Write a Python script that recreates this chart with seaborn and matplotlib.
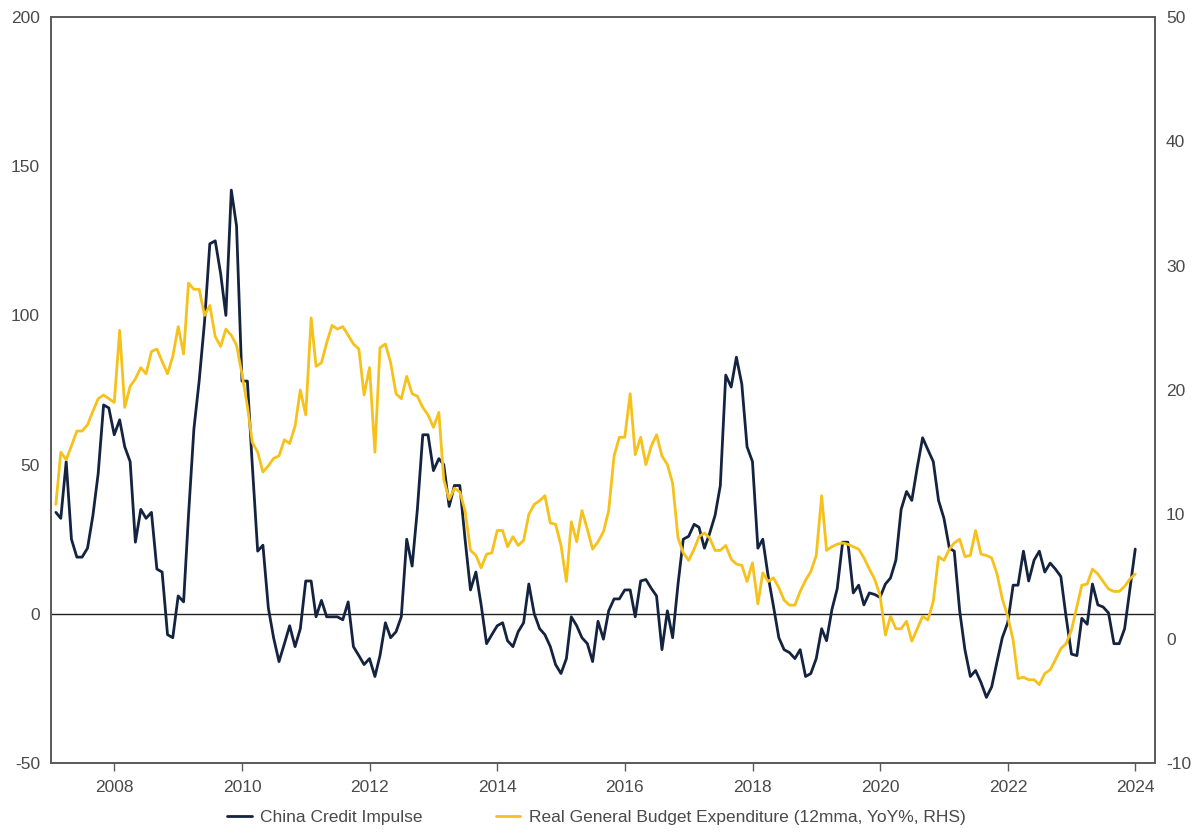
import numpy as np
import pandas as pd
import matplotlib
matplotlib.use("Agg")
import matplotlib.pyplot as plt
import matplotlib.dates as mdates
import seaborn as sns

# ---- data (monthly, Jan 2007 - Dec 2023) ----
credit_impulse = [
    34, 32, 51, 25, 19, 19, 22, 33, 47, 70, 69, 60,
    65, 56, 51, 24, 35, 32, 34, 15, 14, -7, -8, 6,
    4, 33, 62, 78, 98, 124, 125, 114, 100, 142, 130, 78,
    78, 50, 21, 23, 2, -8, -16, -10, -4, -11, -5, 11,
    11, -1, 4.5, -1, -1, -1, -2, 4, -11, -14, -17, -15,
    -21, -14, -3, -8, -6, -1, 25, 16, 35, 60, 60, 48,
    52, 50, 36, 43, 43, 25, 8, 14, 3, -10, -7, -4,
    -3, -9, -11, -6, -3, 10, 0, -5, -7, -11, -17, -20,
    -15, -1, -4, -8, -10, -16, -2.5, -8.5, 1, 5, 5, 8,
    8, -1, 11, 11.5, 8.5, 6, -12, 1, -8, 10, 25, 26,
    30, 29, 22, 27, 33, 43, 80, 76, 86, 77, 56, 51,
    22, 25, 12.5, 2.6, -8, -12, -13, -15, -12, -21, -20, -15,
    -5, -9, 1.5, 8.4, 24, 24, 7, 9.6, 3, 7, 6.5, 5.5,
    10, 12, 18, 35, 41, 38, 49, 59, 55, 51, 38, 32,
    22, 21, 1, -12, -21, -19, -23, -28, -24.5, -16, -8, -3,
    9.6, 9.6, 21, 11, 18, 21, 14, 17, 15, 12.5, -1, -13.5,
    -14, -1.5, -3.5, 10, 3, 2.3, 0.3, -10, -10, -5, 8, 21.7,
]
budget_expenditure = [
    10.8, 15, 14.4, 15.5, 16.7, 16.7, 17.2, 18.3, 19.3, 19.6, 19.3, 19,
    24.8, 18.6, 20.3, 20.9, 21.8, 21.3, 23.1, 23.3, 22.3, 21.3, 22.7, 25.1,
    22.9, 28.6, 28.1, 28.1, 26.0, 26.8, 24.3, 23.5, 24.9, 24.4, 23.6, 21.3,
    18.7, 15.8, 15, 13.4, 13.9, 14.5, 14.7, 16.0, 15.7, 17.1, 20, 18,
    25.8, 21.9, 22.2, 23.8, 25.2, 24.9, 25.1, 24.4, 23.7, 23.3, 19.6, 21.8,
    15, 23.4, 23.7, 22.2, 19.7, 19.3, 21.1, 19.7, 19.5, 18.6, 18, 17,
    18.2, 12.8, 11.2, 12.1, 11.8, 10.3, 7.1, 6.7, 5.7, 6.8, 6.9, 8.7,
    8.7, 7.4, 8.2, 7.5, 7.9, 10, 10.8, 11.1, 11.5, 9.3, 9.2, 7.5,
    4.6, 9.4, 7.8, 10.3, 8.8, 7.2, 7.8, 8.6, 10.3, 14.7, 16.2, 16.2,
    19.7, 14.8, 16.2, 14, 15.5, 16.4, 14.7, 14, 12.5, 8.1, 6.9, 6.3,
    7.2, 8.2, 8.5, 8.1, 7.1, 7.1, 7.5, 6.4, 6, 5.9, 4.6, 6.1,
    2.8, 5.3, 4.6, 4.9, 4.1, 3.1, 2.7, 2.7, 3.8, 4.7, 5.4, 6.7,
    11.5, 7.1, 7.4, 7.6, 7.7, 7.6, 7.4, 7.2, 6.5, 5.6, 4.8, 3.5,
    0.3, 1.8, 0.8, 0.8, 1.4, -0.2, 0.8, 1.8, 1.5, 3.0, 6.6, 6.3,
    7.2, 7.7, 8.0, 6.6, 6.7, 8.7, 6.8, 6.7, 6.5, 5.2, 3.2, 1.8,
    -0.1, -3.2, -3.1, -3.3, -3.3, -3.7, -2.8, -2.5, -1.7, -0.8, -0.4, 0.7,
    2.6, 4.3, 4.4, 5.6, 5.2, 4.6, 4.0, 3.8, 3.8, 4.2, 4.8, 5.2,
]
dates = pd.date_range("2007-01-01", periods=len(credit_impulse), freq="MS") + pd.offsets.MonthEnd(0)
series_names = ["China Credit Impulse", "Real General Budget Expenditure (12mma, YoY%, RHS)"]
left_ticks = [-50, 0, 50, 100, 150, 200]
right_ticks = [-10, 0, 10, 20, 30, 40, 50]

df = pd.DataFrame({"date": dates, "impulse": credit_impulse, "budget": budget_expenditure})

DARK = "#14233f"
YELLOW = "#f6c11b"
TEXT = "#4a4a4a"

sns.set_theme(style="white")
plt.rcParams["font.family"] = ["Liberation Sans", "DejaVu Sans"]
plt.rcParams["axes.unicode_minus"] = False

fig = plt.figure(figsize=(12, 8.34), dpi=100)
ax = fig.add_axes([0.0425, 0.0851, 0.92, 0.8945])
ax2 = ax.twinx()

ax.axhline(0, color="#222222", lw=1.0, zorder=1)
sns.lineplot(data=df, x="date", y="impulse", ax=ax, color=DARK, lw=2.0,
             label=series_names[0], legend=False, zorder=3)
sns.lineplot(data=df, x="date", y="budget", ax=ax2, color=YELLOW, lw=2.0,
             label=series_names[1], legend=False, zorder=2)

ax.set_ylim(-50, 200)
ax2.set_ylim(-10, 50)
ax.set_yticks(left_ticks)
ax2.set_yticks(right_ticks)
ax.set_xlim(pd.Timestamp("2007-01-03"), pd.Timestamp("2024-04-22"))
ax.xaxis.set_major_locator(mdates.YearLocator(2))
ax.xaxis.set_major_formatter(mdates.DateFormatter("%Y"))

for a in (ax, ax2):
    a.set_xlabel("")
    a.set_ylabel("")
    for s in a.spines.values():
        s.set_color("#5a5a5a")
        s.set_linewidth(1.2)
    a.grid(False)

ax.tick_params(axis="y", length=0, pad=8, labelsize=12.5, labelcolor=TEXT)
ax2.tick_params(axis="y", length=0, pad=8, labelsize=12.5, labelcolor=TEXT)
ax.tick_params(axis="x", length=6, width=1, color="#5a5a5a", direction="out",
               pad=6, labelsize=12.5, labelcolor=TEXT, bottom=True)

h1, l1 = ax.get_legend_handles_labels()
h2, l2 = ax2.get_legend_handles_labels()
fig.legend(h1 + h2, l1 + l2, loc="lower center", bbox_to_anchor=(0.497, -0.008),
           ncol=2, frameon=False, fontsize=12.5, handlelength=1.4,
           handletextpad=0.5, columnspacing=4.2, labelcolor=TEXT)

fig.savefig("out.png", dpi=100, facecolor="white")
